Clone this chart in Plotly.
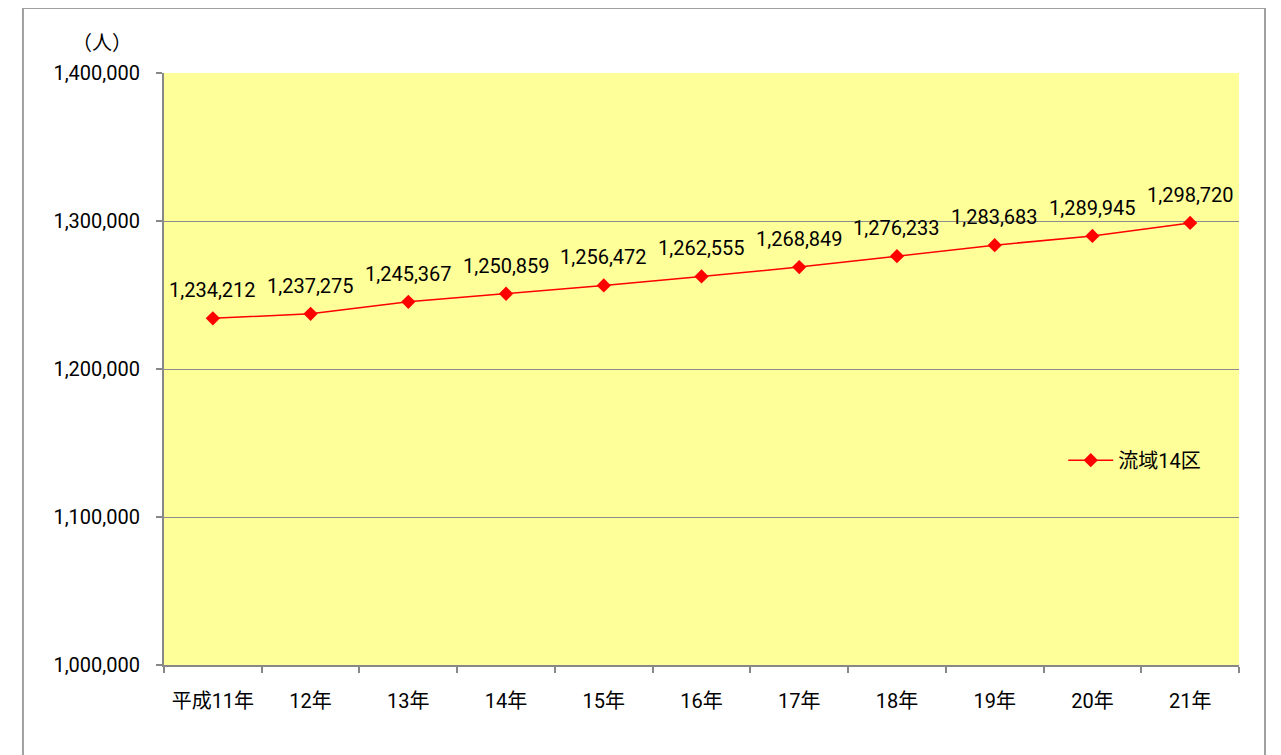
import plotly.graph_objects as go

categories = ["平成11年", "12年", "13年", "14年", "15年", "16年", "17年", "18年", "19年", "20年", "21年"]
population = [1234212, 1237275, 1245367, 1250859, 1256472, 1262555, 1268849, 1276233, 1283683, 1289945, 1298720]
series_name = "流域14区"
y_ticks = [1000000, 1100000, 1200000, 1300000, 1400000]

FONT = "Roboto, Noto Sans CJK JP"
RED = "#FF0000"

fig = go.Figure()
fig.add_trace(go.Scatter(
    x=categories, y=population, name=series_name,
    mode="lines+markers",
    line=dict(color=RED, width=1.5),
    marker=dict(symbol="diamond", size=11, color=RED),
    showlegend=True,
))

for c, v in zip(categories, population):
    fig.add_annotation(x=c, y=v, text=f"{v:,}", showarrow=False, yshift=28,
                       font=dict(family=FONT, size=20, color="#000000"))

fig.add_annotation(x=-0.0577, y=1.054, xref="paper", yref="paper", text="（人）",
                   xanchor="center", yanchor="middle",
                   showarrow=False, font=dict(family="Noto Sans CJK JP", size=20, color="#000000"))

fig.add_shape(type="rect", xref="paper", yref="paper", x0=-0.1312, x1=1.0242, y0=-0.17, y1=1.1098,
              line=dict(color="#A0A0A0", width=2), fillcolor="rgba(0,0,0,0)", layer="below")

fig.update_layout(
    width=1281, height=755,
    margin=dict(l=156, r=50, t=65, b=98),
    paper_bgcolor="#FFFFFF", plot_bgcolor="#FFFF99",
    font=dict(family=FONT, size=20, color="#000000"),
    legend=dict(x=0.8365, y=0.346, xanchor="left", yanchor="middle", bgcolor="rgba(0,0,0,0)",
                itemwidth=45, font=dict(family=FONT, size=20)),
    xaxis=dict(type="category", range=[-0.5, len(categories) - 0.5], showgrid=False, showline=True,
               linecolor="#888888", linewidth=2,
               ticks="outside", ticklen=6, tickcolor="#888888", tickwidth=1.5, tickson="boundaries",
               tickfont=dict(size=20), ticklabelstandoff=17, automargin=False),
    yaxis=dict(range=[1000000, 1400000], tickvals=y_ticks, ticktext=[f"{t:,}" for t in y_ticks],
               showgrid=True, gridcolor="#8C8C8C", gridwidth=1, showline=True, linecolor="#888888", linewidth=2,
               ticks="outside", ticklen=6, tickcolor="#888888", tickwidth=1.5, zeroline=False,
               tickfont=dict(size=20), ticklabelstandoff=12, automargin=False),
)

fig.write_html("out.html")
